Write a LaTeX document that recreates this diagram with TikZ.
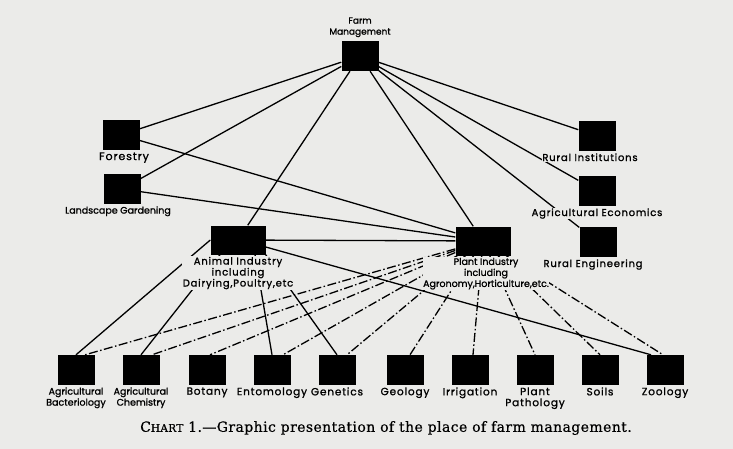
\documentclass[tikz,border=0pt]{standalone}
\usepackage{fontspec}
\newfontfamily\letterfont[FakeBold=1.2]{Poppins}
\newfontfamily\spacedfont[FakeBold=1.2, LetterSpace=8]{Poppins}
\newfontfamily\captionfont[FakeBold=0.6, LetterSpace=3]{DejaVu Serif}
\usetikzlibrary{positioning}
\definecolor{paper}{RGB}{235,235,233}

\begin{document}
\begin{tikzpicture}[
    x=1pt, y=-1pt,
    node distance=1.5pt,
    unit/.style={rectangle, fill=black, minimum width=37pt, minimum height=30pt, inner sep=0pt},
    wide/.style={unit, minimum width=55pt, minimum height=29pt},
    tag/.style={font=\spacedfont\fontsize{10}{11}\selectfont, align=center, inner sep=0.5pt, fill=paper},
    bottomtag/.style={tag, font=\spacedfont\fontsize{10.5}{11}\selectfont},
    narrowtag/.style={tag, font=\letterfont\fontsize{9.5}{11}\selectfont},
    link/.style={line width=1.3pt},
    dashlink/.style={line width=1.3pt, dash pattern=on 9pt off 2.5pt on 1.5pt off 2.5pt}
]
\fill[paper] (0,0) rectangle (733,449);
\useasboundingbox (0,0) rectangle (733,449);

% boxes
\node[unit] (fm) at (360,56) {};
\node[unit] (forestry) at (121,135) {};
\node[unit] (landscape) at (122,189) {};
\node[unit] (ruralinst) at (597,136) {};
\node[unit] (agecon) at (597,191) {};
\node[unit] (ruraleng) at (598,242) {};
\node[wide] (animal) at (238,240) {};
\node[wide] (plant) at (483,241) {};
\foreach \name/\x in {bact/76, chem/141, botany/207, ento/272, genetics/337,
                      geology/405, irrig/470, path/535, soils/600, zoology/665}
    \node[unit] (\name) at (\x,370) {};

% solid connections
\foreach \to in {forestry, landscape, animal, plant, ruralinst, agecon, ruraleng}
    \draw[link] (fm) -- (\to);
\foreach \from in {forestry, landscape, animal}
    \draw[link] (\from) -- (plant);
\draw[link] (animal.west) -- (bact.north);
\draw[link] ([xshift=-18pt]animal.south) -- (chem.north);
\draw[link] ([xshift=17pt]animal.south) -- (ento.north);
\draw[link] (animal.south east) -- (genetics.north);
\draw[link] ([yshift=-7pt]animal.east) -- ([xshift=-14pt]zoology.north);

% dash-dot connections
\foreach \name/\dx in {bact/9, chem/11, botany/3, ento/11, genetics/10,
                       geology/5, irrig/3, path/0, soils/0, zoology/-2}
    \draw[dashlink] (plant) -- ([xshift=\dx pt]\name.north);

% labels
\node[narrowtag, above=3pt of fm, font=\letterfont\fontsize{9}{11}\selectfont] (fmtag) {Farm\\Management};
\node[tag, below=of forestry, xshift=3pt, font=\spacedfont\fontsize{11}{12}\selectfont] (forestrytag) {Forestry};
\node[narrowtag, below=of landscape, xshift=-4pt] (landscapetag) {Landscape Gardening};
\node[narrowtag, below=of plant, xshift=3pt] (planttag) {Plant Industry\\including\\Agronomy,Horticulture,etc.};
\node[tag, below=of animal] (animaltag) {Animal Industry\\including\\Dairying,Poultry,etc};
\node[tag, below=of ruralinst, xshift=-7pt] (ruralinsttag) {Rural Institutions};
\node[tag, below=of agecon] (agecontag) {Agricultural Economics};
\node[tag, below=of ruraleng, xshift=-5pt] (ruralengtag) {Rural Engineering};
\node[narrowtag, below=of bact] (bacttag) {Agricultural\\Bacteriology};
\node[narrowtag, below=of chem] (chemtag) {Agricultural\\Chemistry};
\node[bottomtag, below=of botany] (botanytag) {Botany};
\node[bottomtag, below=of ento] (entotag) {Entomology};
\node[bottomtag, below=of genetics] (geneticstag) {Genetics};
\node[bottomtag, below=of geology] (geologytag) {Geology};
\node[bottomtag, below=of irrig] (irrigtag) {Irrigation};
\node[bottomtag, below=of path] (pathtag) {Plant\\Pathology};
\node[bottomtag, below=of soils] (soilstag) {Soils};
\node[bottomtag, below=of zoology] (zoologytag) {Zoology};

\node[font=\captionfont\fontsize{14}{16}\selectfont] (caption) at (386,428)
    {C{\fontsize{10.5}{16}\selectfont HART} 1.—Graphic presentation of the place of farm management.};
\end{tikzpicture}
\end{document}
